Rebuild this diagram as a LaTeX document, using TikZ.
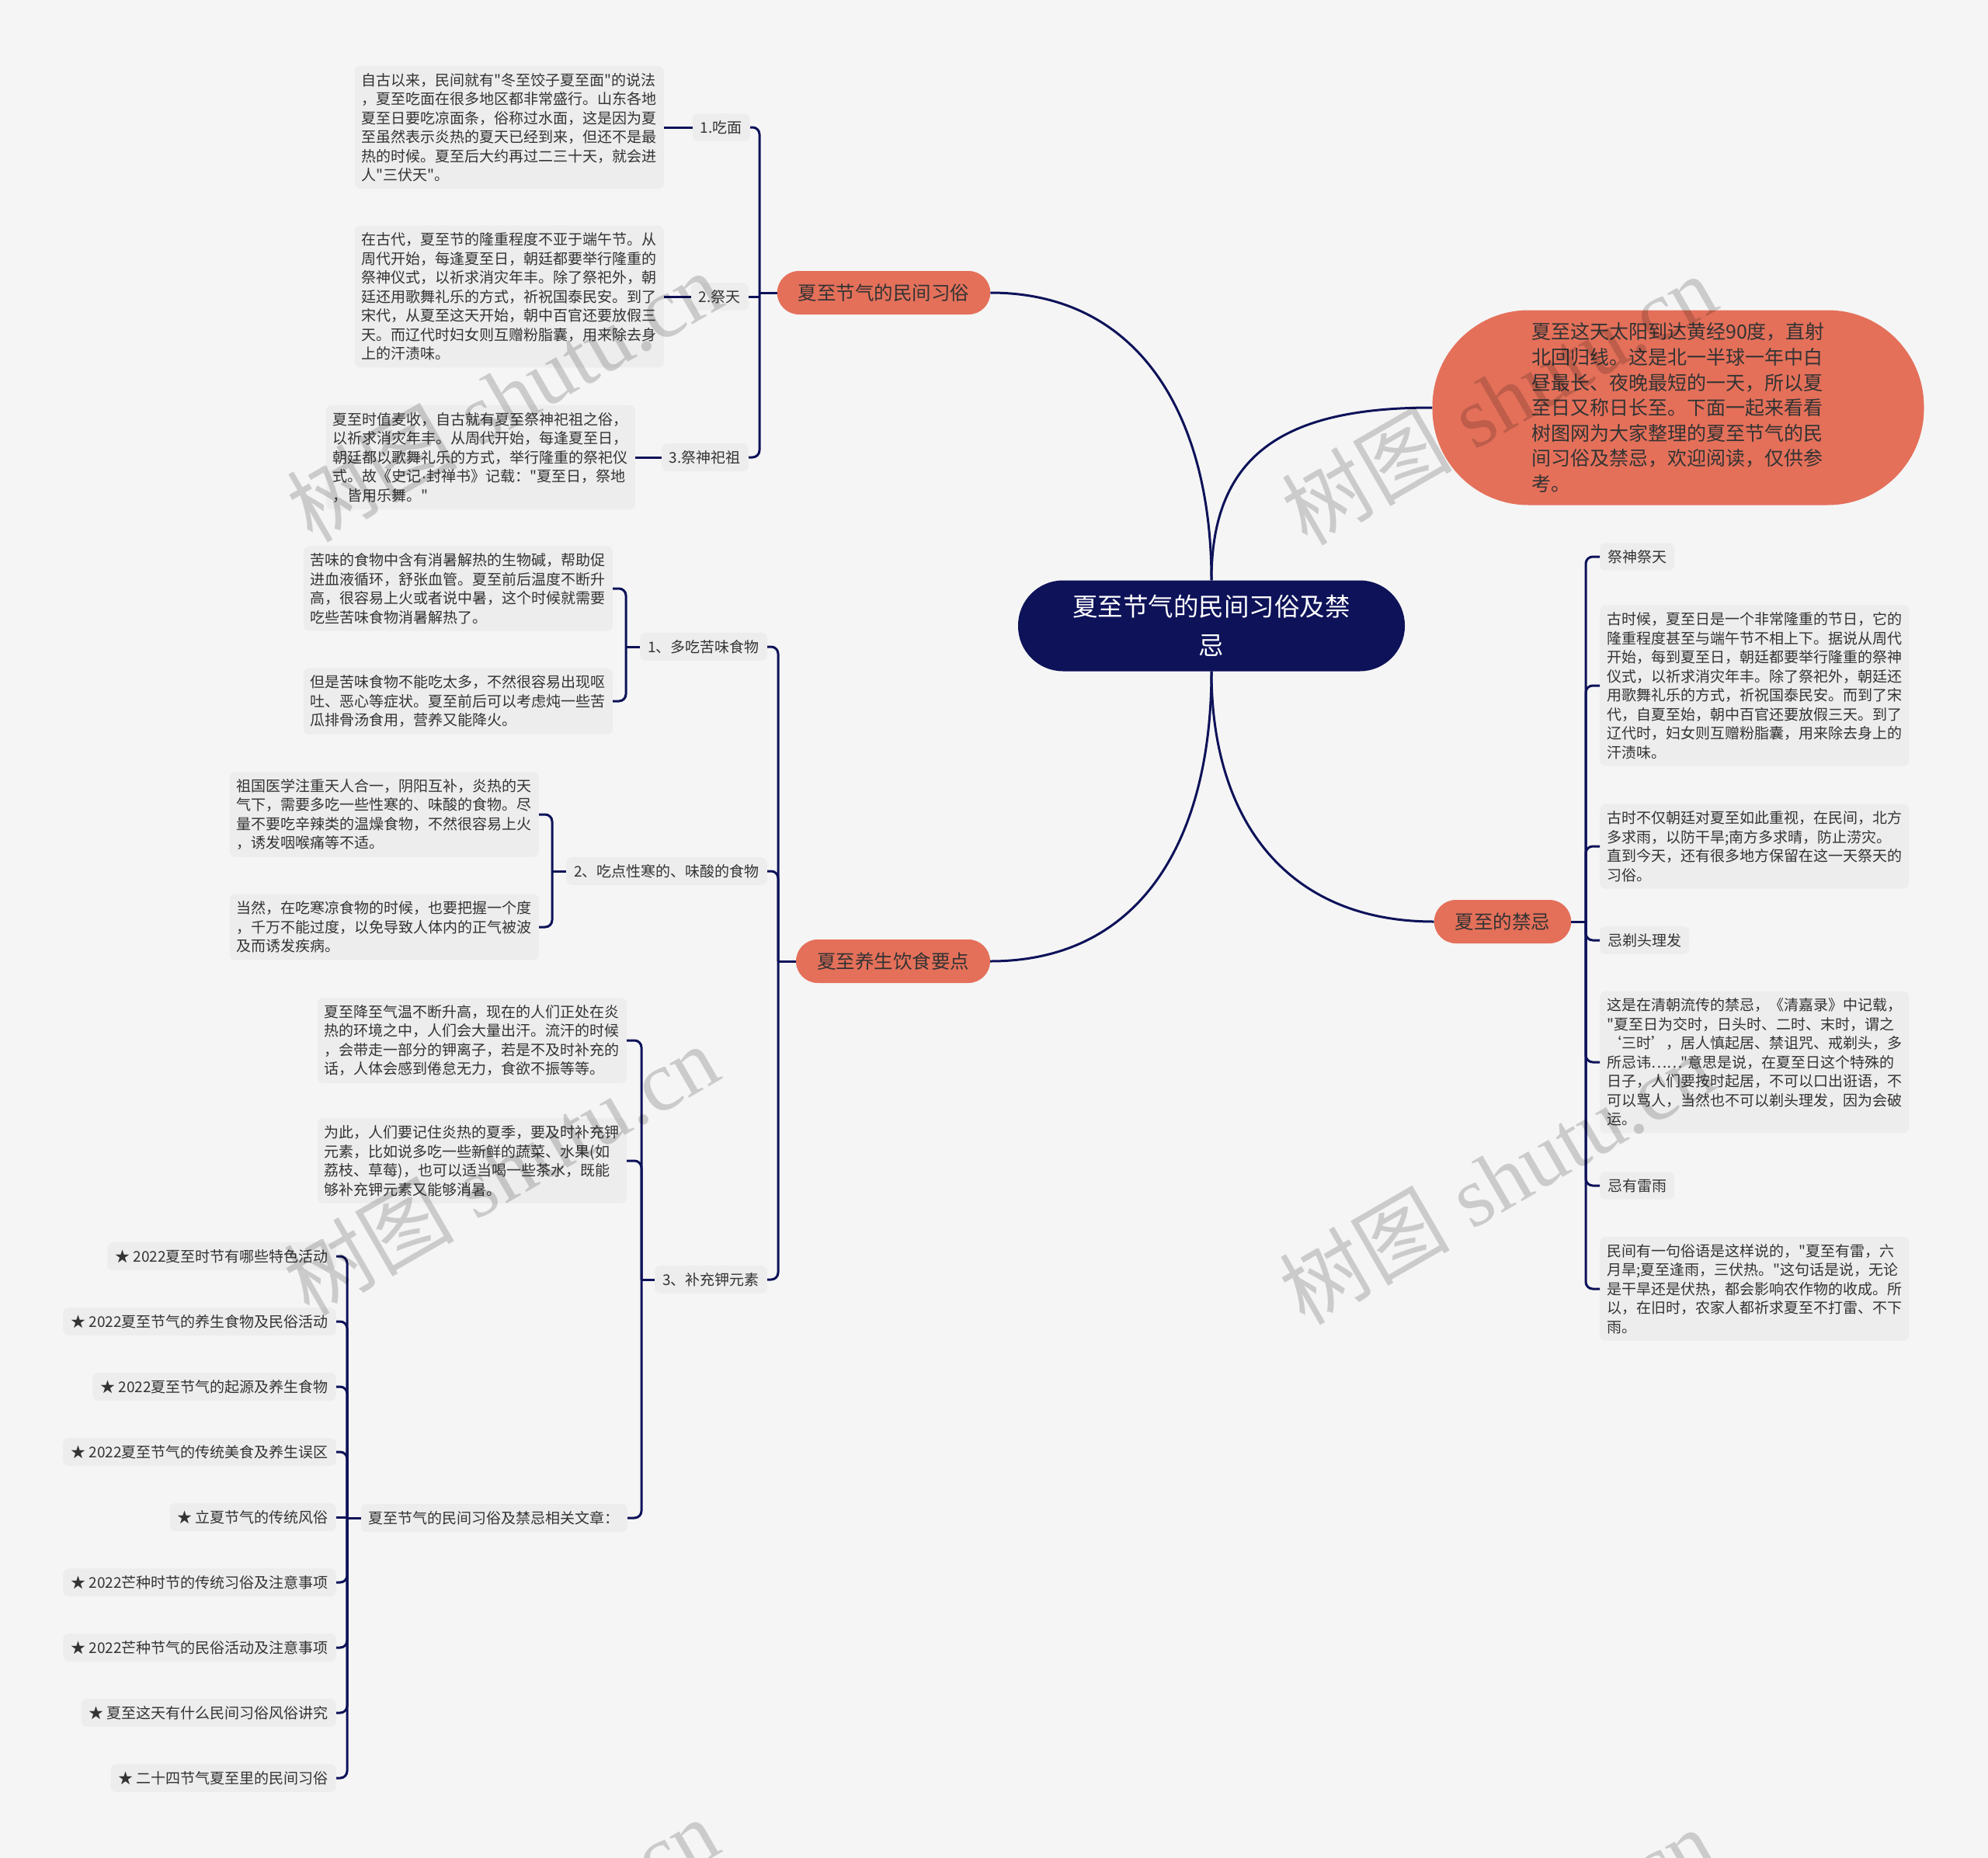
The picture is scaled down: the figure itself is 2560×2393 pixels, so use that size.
\documentclass[tikz,border=0pt]{standalone}
\usepackage{fontspec}
\newfontfamily\cjkf{Noto Sans CJK SC}
\newfontfamily\latf{Liberation Sans}
\newfontfamily\wmfont{Liberation Serif}
\definecolor{navy}{HTML}{0D1259}
\definecolor{coral}{HTML}{E4705A}
\definecolor{bgc}{HTML}{F5F5F5}
\definecolor{boxg}{HTML}{EDEDED}
\definecolor{txt}{HTML}{333333}
\begin{document}
\begin{tikzpicture}[x=1pt,y=-1pt,
 conn/.style={draw=navy,line width=3pt,rounded corners=9pt},
 curv/.style={draw=navy,line width=3pt},
 det/.style={fill=boxg,rounded corners=7pt,align=left,text width=380pt,inner xsep=9pt,inner ysep=9pt,text=txt,font=\cjkf\fontsize{19}{24.5}\selectfont},
 lab/.style={fill=boxg,rounded corners=7pt,inner xsep=10pt,inner ysep=9pt,text=txt,font=\cjkf\fontsize{19}{24.5}\selectfont},
 lvl/.style={fill=coral,rounded corners=28pt,minimum height=56pt,inner xsep=27pt,text=txt,font=\cjkf\fontsize{24.5}{30}\selectfont},
 wm/.style={rotate=30,text=black,opacity=0.17,text opacity=0.17,font=\wmfont\fontsize{110}{110}\selectfont}
]
\fill[bgc] (0,0) rectangle (2560,2393);
\useasboundingbox (0,0) rectangle (2560,2393);

% central node
\node[fill=navy,rounded corners=58pt,minimum width=498pt,minimum height=117pt,text=white,align=center,font=\cjkf\fontsize{32.5}{50}\selectfont] (c) at (1560,806) {夏至节气的民间习俗及禁\\忌};

% intro bubble
\node[fill=coral,rounded corners=124pt,minimum width=633pt,minimum height=251pt,align=left,text=txt,font=\cjkf\fontsize{25}{32.6}\selectfont] (intro) at (2161,525) {夏至这天太阳到达黄经90度，直射\\北回归线。这是北一半球一年中白\\昼最长、夜晚最短的一天，所以夏\\至日又称日长至。下面一起来看看\\树图网为大家整理的夏至节气的民\\间习俗及禁忌，欢迎阅读，仅供参\\考。};

% level 1
\node[lvl] (a1) at (1138,377) {夏至节气的民间习俗};
\node[lvl] (a2) at (1150,1238) {夏至养生饮食要点};
\node[lvl] (a3) at (1935,1187) {夏至的禁忌};

% branch a1
\node[lab,anchor=east] (b1) at (966,164) {1.吃面};
\node[lab,anchor=east] (b2) at (964,382) {2.祭天};
\node[lab,anchor=east] (b3) at (964,589) {3.祭神祀祖};
\node[det,anchor=east] (d1) at (855,164) {自古以来，民间就有"冬至饺子夏至面"的说法\\，夏至吃面在很多地区都非常盛行。山东各地\\夏至日要吃凉面条，俗称过水面，这是因为夏\\至虽然表示炎热的夏天已经到来，但还不是最\\热的时候。夏至后大约再过二三十天，就会进\\人"三伏天"。};
\node[det,anchor=east] (d2) at (855,382) {在古代，夏至节的隆重程度不亚于端午节。从\\周代开始，每逢夏至日，朝廷都要举行隆重的\\祭神仪式，以祈求消灾年丰。除了祭祀外，朝\\廷还用歌舞礼乐的方式，祈祝国泰民安。到了\\宋代，从夏至这天开始，朝中百官还要放假三\\天。而辽代时妇女则互赠粉脂囊，用来除去身\\上的汗渍味。};
\node[det,anchor=east] (d3) at (818,589) {夏至时值麦收，自古就有夏至祭神祀祖之俗，\\以祈求消灾年丰。从周代开始，每逢夏至日，\\朝廷都以歌舞礼乐的方式，举行隆重的祭祀仪\\式。故《史记{\latf ·}封禅书》记载："夏至日，祭地\\，皆用乐舞。"};

% branch a2
\node[lab,anchor=east] (c1) at (988,833) {1、多吃苦味食物};
\node[lab,anchor=east] (c2) at (988,1122) {2、吃点性寒的、味酸的食物};
\node[lab,anchor=east] (c3) at (988,1648) {3、补充钾元素};
\node[det,anchor=east] (d4) at (789,758) {苦味的食物中含有消暑解热的生物碱，帮助促\\进血液循环，舒张血管。夏至前后温度不断升\\高，很容易上火或者说中暑，这个时候就需要\\吃些苦味食物消暑解热了。};
\node[det,anchor=east] (d5) at (789,903) {但是苦味食物不能吃太多，不然很容易出现呕\\吐、恶心等症状。夏至前后可以考虑炖一些苦\\瓜排骨汤食用，营养又能降火。};
\node[det,anchor=east] (d6) at (694,1049) {祖国医学注重天人合一，阴阳互补，炎热的天\\气下，需要多吃一些性寒的、味酸的食物。尽\\量不要吃辛辣类的温燥食物，不然很容易上火\\，诱发咽喉痛等不适。};
\node[det,anchor=east] (d7) at (694,1194) {当然，在吃寒凉食物的时候，也要把握一个度\\，千万不能过度，以免导致人体内的正气被波\\及而诱发疾病。};
\node[det,anchor=east] (d8) at (807,1340) {夏至降至气温不断升高，现在的人们正处在炎\\热的环境之中，人们会大量出汗。流汗的时候\\，会带走一部分的钾离子，若是不及时补充的\\话，人体会感到倦怠无力，食欲不振等等。};
\node[det,anchor=east] (d9) at (807,1495) {为此，人们要记住炎热的夏季，要及时补充钾\\元素，比如说多吃一些新鲜的蔬菜、水果(如\\荔枝、草莓)，也可以适当喝一些茶水，既能\\够补充钾元素又能够消暑。};
\node[lab,anchor=east] (c4) at (808,1955) {夏至节气的民间习俗及禁忌相关文章：};
\node[lab,anchor=east] (e1) at (433,1618) {★ 2022夏至时节有哪些特色活动};
\node[lab,anchor=east] (e2) at (433,1702) {★ 2022夏至节气的养生食物及民俗活动};
\node[lab,anchor=east] (e3) at (433,1786) {★ 2022夏至节气的起源及养生食物};
\node[lab,anchor=east] (e4) at (433,1870) {★ 2022夏至节气的传统美食及养生误区};
\node[lab,anchor=east] (e5) at (433,1954) {★ 立夏节气的传统风俗};
\node[lab,anchor=east] (e6) at (433,2038) {★ 2022芒种时节的传统习俗及注意事项};
\node[lab,anchor=east] (e7) at (433,2122) {★ 2022芒种节气的民俗活动及注意事项};
\node[lab,anchor=east] (e8) at (433,2206) {★ 夏至这天有什么民间习俗风俗讲究};
\node[lab,anchor=east] (e9) at (433,2290) {★ 二十四节气夏至里的民间习俗};

% branch a3
\node[lab,anchor=west] (r1) at (2060,717) {祭神祭天};
\node[det,anchor=west] (d10) at (2060,883) {古时候，夏至日是一个非常隆重的节日，它的\\隆重程度甚至与端午节不相上下。据说从周代\\开始，每到夏至日，朝廷都要举行隆重的祭神\\仪式，以祈求消灾年丰。除了祭祀外，朝廷还\\用歌舞礼乐的方式，祈祝国泰民安。而到了宋\\代，自夏至始，朝中百官还要放假三天。到了\\辽代时，妇女则互赠粉脂囊，用来除去身上的\\汗渍味。};
\node[det,anchor=west] (d11) at (2060,1090) {古时不仅朝廷对夏至如此重视，在民间，北方\\多求雨，以防干旱;南方多求晴，防止涝灾。\\直到今天，还有很多地方保留在这一天祭天的\\习俗。};
\node[lab,anchor=west] (r4) at (2060,1211) {忌剃头理发};
\node[det,anchor=west] (d12) at (2060,1368) {这是在清朝流传的禁忌，《清嘉录》中记载，\\"夏至日为交时，日头时、二时、末时，谓之\\‘三时’，居人慎起居、禁诅咒、戒剃头，多\\所忌讳……"意思是说，在夏至日这个特殊的\\日子，人们要按时起居，不可以口出诳语，不\\可以骂人，当然也不可以剃头理发，因为会破\\运。};
\node[lab,anchor=west] (r6) at (2060,1527) {忌有雷雨};
\node[det,anchor=west] (d13) at (2060,1660) {民间有一句俗语是这样说的，"夏至有雷，六\\月旱;夏至逢雨，三伏热。"这句话是说，无论\\是干旱还是伏热，都会影响农作物的收成。所\\以，在旧时，农家人都祈求夏至不打雷、不下\\雨。};

% central connectors
\draw[curv] (c.north) .. controls (1560,540) and (1470,377) .. (a1.east);
\draw[curv] (c.north) .. controls (1560,580) and (1660,525) .. (intro.west);
\draw[curv] (c.south) .. controls (1560,1080) and (1470,1238) .. (a2.east);
\draw[curv] (c.south) .. controls (1560,1060) and (1660,1187) .. (a3.west);

% junctions
\coordinate (j1) at (978,377);
\coordinate (j2) at (1002,1238);
\coordinate (j3) at (2042,1187);
\coordinate (k1) at (806,833);
\coordinate (k2) at (711,1122);
\coordinate (k3) at (826,1648);
\coordinate (k4) at (447,1955);

% a1 branch
\draw[conn] (a1.west) -- (j1);
\draw[conn] (j1) |- (b1.east);
\draw[conn] (j1 |- b2.east) -- (b2.east);
\draw[conn] (j1) |- (b3.east);
\draw[conn] (b1.west) -- (d1.east);
\draw[conn] (b2.west) -- (d2.east);
\draw[conn] (b3.west) -- (d3.east);

% a2 branch
\draw[conn] (a2.west) -- (j2);
\draw[conn] (j2) |- (c1.east);
\draw[conn] (j2) |- (c2.east);
\draw[conn] (j2) |- (c3.east);
\draw[conn] (c1.west) -- (k1);
\draw[conn] (k1) |- (d4.east);
\draw[conn] (k1) |- (d5.east);
\draw[conn] (c2.west) -- (k2);
\draw[conn] (k2) |- (d6.east);
\draw[conn] (k2) |- (d7.east);
\draw[conn] (c3.west) -- (k3);
\draw[conn] (k3) |- (d8.east);
\draw[conn] (k3) |- (d9.east);
\draw[conn] (k3) |- (c4.east);
\draw[conn] (c4.west) -- (k4);
\draw[conn] (k4) |- (e1.east);
\draw[conn] (k4) |- (e2.east);
\draw[conn] (k4) |- (e3.east);
\draw[conn] (k4) |- (e4.east);
\draw[conn] (k4 |- e5.east) -- (e5.east);
\draw[conn] (k4) |- (e6.east);
\draw[conn] (k4) |- (e7.east);
\draw[conn] (k4) |- (e8.east);
\draw[conn] (k4) |- (e9.east);

% a3 branch
\draw[conn] (a3.east) -- (j3);
\draw[conn] (j3) |- (r1.west);
\draw[conn] (j3) |- (d10.west);
\draw[conn] (j3) |- (d11.west);
\draw[conn] (j3) |- (r4.west);
\draw[conn] (j3) |- (d12.west);
\draw[conn] (j3) |- (r6.west);
\draw[conn] (j3) |- (d13.west);

% watermarks
\node[wm] (w1) at (649,510) {{\cjkf 树图} shutu.cn};
\node[wm] (w2) at (1930,514) {{\cjkf 树图} shutu.cn};
\node[wm] (w3) at (645,1506) {{\cjkf 树图} shutu.cn};
\node[wm] (w4) at (1927,1518) {{\cjkf 树图} shutu.cn};
\node[wm] (w5) at (645,2502) {{\cjkf 树图} shutu.cn};
\node[wm] (w6) at (1927,2515) {{\cjkf 树图} shutu.cn};
\end{tikzpicture}
\end{document}
